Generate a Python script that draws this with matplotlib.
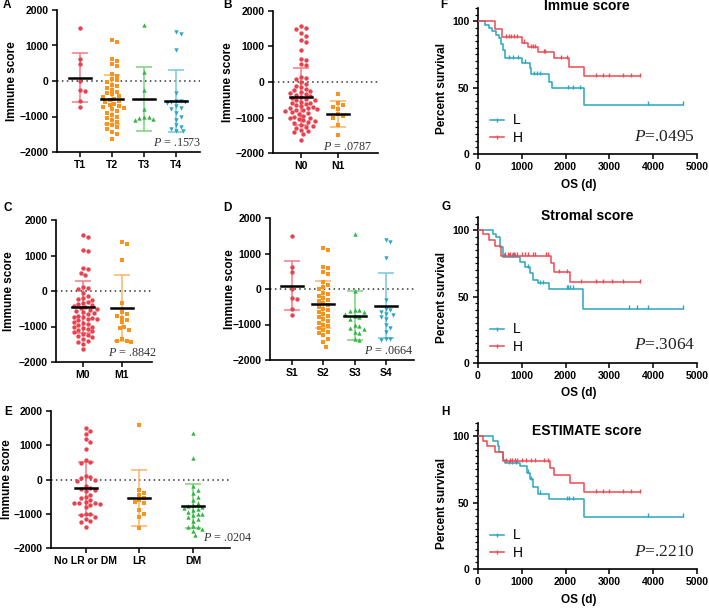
import numpy as np
import matplotlib
matplotlib.use('Agg')
import matplotlib.pyplot as plt
from matplotlib.lines import Line2D

plt.rcParams['font.family'] = 'Liberation Sans'
plt.rcParams['font.weight'] = 'bold'
plt.rcParams['axes.linewidth'] = 1.2
plt.rcParams['mathtext.fontset'] = 'custom'
plt.rcParams['mathtext.it'] = 'Liberation Serif:style=italic:weight=normal'
plt.rcParams['mathtext.rm'] = 'Liberation Serif:weight=normal'

# ---------------- scatter data (immune score) ----------------
t_names = ['T1', 'T2', 'T3', 'T4']
t_vals = [
    [1500, 620, 480, 0, -250, -290, -560, -730],
    [1150, 1100, 620, 560, 480, 420, 200, 150, 60, 20, -20, -100, -150, -200, -250,
     -300, -350, -380, -420, -450, -500, -530, -560, -600, -640, -680, -700, -720,
     -760, -800, -850, -900, -950, -1000, -1050, -1100, -1150, -1200, -1250, -1300,
     -1350, -1430, -1480, -1620],
    [1580, 240, -250, -800, -1000, -1000, -1050, -1080, -1100],
    [1380, 1330, 870, -350, -550, -570, -580, -600, -620, -700, -750, -800, -900,
     -1000, -1100, -1250, -1300, -1350, -1420, -1420],
]
t_mean = [90, -520, -510, -565]
t_sd = [690, 700, 900, 875]

n_names = ['N0', 'N1']
n_vals = [
    [1570, 1530, 1480, 1390, 1300, 1180, 1140, 900, 650, 620, 500, 480, 140, 120, 90,
     0, -50, -100, -150, -200, -220, -250, -280, -320, -350, -380, -400, -420, -450,
     -480, -500, -520, -550, -580, -600, -620, -650, -680, -700, -720, -740, -760,
     -780, -800, -820, -850, -880, -900, -950, -980, -1000, -1020, -1050, -1080,
     -1100, -1130, -1160, -1200, -1230, -1260, -1300, -1340, -1380, -1420, -1460,
     -1620],
    [-330, -600, -650, -700, -750, -900, -950, -1000, -1200, -1480],
]
n_mean = [-410, -900]
n_sd = [810, 367]

m_names = ['M0', 'M1']
m_vals = [
    [1580, 1520, 1160, 1120, 640, 610, 520, 440, 100, 80, 50, -50, -150, -200, -230,
     -260, -300, -330, -360, -400, -420, -450, -480, -500, -530, -560, -600, -630,
     -660, -700, -720, -740, -760, -780, -800, -830, -860, -900, -930, -960, -1000,
     -1020, -1050, -1080, -1100, -1130, -1160, -1200, -1230, -1260, -1300, -1350,
     -1400, -1450, -1480, -1620],
    [1370, 1330, 870, -350, -600, -650, -700, -750, -820, -880, -1000, -1050, -1100,
     -1350, -1400, -1420, -1430],
]
m_mean = [-457, -486]
m_sd = [733, 924]

s_names = ['S1', 'S2', 'S3', 'S4']
s_vals = [
    [1500, 620, 480, 0, -250, -290, -560, -730],
    [1150, 1100, 620, 580, 480, 420, 200, 100, 50, 0, -100, -150, -200, -250, -300,
     -350, -400, -450, -500, -550, -600, -650, -700, -750, -800, -850, -900, -950,
     -1000, -1050, -1100, -1150, -1200, -1250, -1300, -1400, -1500, -1620],
    [1560, -50, -580, -600, -620, -650, -700, -750, -800, -850, -1000, -1050, -1100,
     -1120, -1200, -1250, -1400, -1450],
    [1380, 1330, 870, -320, -550, -600, -650, -700, -720, -800, -850, -1000, -1100,
     -1200, -1400, -1420, -1430],
]
s_mean = [93, -430, -748, -477]
s_sd = [683, 664, 700, 917]

e_names = ['No LR or DM', 'LR', 'DM']
e_vals = [
    [1500, 1420, 1330, 1170, 1100, 880, 560, 520, 480, 100, 70, 50, 0, -30, -200,
     -250, -280, -300, -350, -450, -500, -550, -600, -650, -680, -700, -700, -720,
     -750, -800, -1000, -1000, -1050, -1100, -1150, -1200, -1250, -1380],
    [1580, -300, -400, -450, -550, -600, -650, -700, -900, -1000, -1100, -1430],
    [1370, 630, -200, -300, -400, -500, -600, -700, -750, -780, -800, -820, -850, -900,
     -950, -1000, -1000, -1050, -1100, -1150, -1200, -1350, -1400, -1400, -1450,
     -1500, -1620],
]
e_mean = [-262, -544, -777]
e_sd = [767, 826, 641]

# ---------------- Kaplan-Meier data ----------------
f_L_t = [0, 150, 250, 330, 420, 480, 520, 560, 620, 1000, 1180, 1210, 1620, 1690, 2410]
f_L_s = [100, 97.5, 95, 92.5, 90, 87.5, 83, 78, 72, 68.5, 65, 60, 54.5, 49.5, 37]
f_L_c = [700, 800, 920, 1080, 1280, 1340, 1420, 2050, 2160, 2340, 3880, 4670]
f_H_t = [0, 385, 555, 995, 1135, 1365, 1725, 2070, 2415]
f_H_s = [100, 94, 88, 84, 80.5, 76.5, 72, 65.5, 58.5]
f_H_c = [640, 700, 760, 820, 880, 1060, 1200, 1250, 1300, 1500, 1540, 1900, 2030,
         2700, 2850, 3000, 3300, 3500, 3700]

g_L_t = [0, 345, 420, 500, 560, 960, 1070, 1185, 1260, 1370, 1613, 2400]
g_L_s = [100, 97.5, 95, 87.5, 80, 76, 72, 68, 62.5, 60, 56, 41]
g_L_c = [600, 700, 780, 850, 1150, 1420, 1480, 2030, 2060, 2100, 2180, 3450, 3620,
         3880, 4670]
g_H_t = [0, 115, 250, 380, 535, 1667, 1740, 2110]
g_H_s = [100, 97, 93, 88, 80.7, 75.7, 68.2, 60.7]
g_H_c = [620, 680, 740, 790, 830, 900, 1000, 1080, 1150, 1250, 1300, 1550, 1600,
         1850, 2040, 2350, 2700, 2850, 3050, 3300, 3700]

h_L_t = [0, 345, 450, 490, 560, 620, 960, 1110, 1190, 1260, 1370, 1613, 2415]
h_L_s = [100, 96.5, 93, 88, 82, 79.5, 77.5, 72.5, 67.5, 62, 56.7, 52.4, 39.3]
h_L_c = [700, 780, 860, 1150, 1220, 1420, 2030, 2070, 2180, 3880, 4670]
h_H_t = [0, 115, 200, 380, 570, 1650, 1740, 2110, 2415]
h_H_s = [100, 96.5, 93, 88, 81.3, 76.3, 70.5, 64.5, 57.9]
h_H_c = [650, 720, 780, 840, 900, 1000, 1100, 1200, 1300, 1500, 1600, 2700, 2850,
         3000, 3300, 3500, 3700]

RED, ORANGE, GREEN, CYAN = '#E8424F', '#F7931E', '#35B546', '#2CA5C8'
LIGHT = {RED: '#F07C86', ORANGE: '#F9B466', GREEN: '#7BD27F', CYAN: '#78C6DE'}
KM_L, KM_H = '#2AA6BF', '#EE4A53'

W, H = 709, 609
fig = plt.figure(figsize=(W / 100, H / 100), dpi=100)


def add_axes(box):
    left, top, right, bottom = box
    return fig.add_axes([left / W, 1 - bottom / H, (right - left) / W, (bottom - top) / H])


def ftext(x, y, s, **kw):
    fig.text(x / W, 1 - y / H, s, **kw)


def swarm(vals, ypx, d):
    '''simple bee swarm: horizontal offsets in pixels'''
    y = np.asarray(vals, dtype=float) * ypx
    offs = np.zeros(len(y))
    placed = []
    for k in np.argsort(-y):
        cands = [0.0]
        for j in range(1, 60):
            cands += [j * d * 0.5, -j * d * 0.5]
        for c in cands:
            if all((c - px) ** 2 + (y[k] - py) ** 2 >= d * d for px, py in placed):
                break
        offs[k] = c
        placed.append((c, y[k]))
    return offs


def scatter_panel(box, names, vals, means, sds, colors, markers, xlim, ptext, p_xy, ylab_x):
    ax = add_axes(box)
    w_px, h_px = box[2] - box[0], box[3] - box[1]
    xpx = w_px / (xlim[1] - xlim[0])
    ypx = h_px / 4000.0
    ax.set_xlim(xlim)
    ax.set_ylim(-2000, 2000)
    ax.axhline(0, color='#333333', ls=(0, (1, 2.2)), lw=1.1, zorder=1)
    for i, (v, mu, sd, c, m) in enumerate(zip(vals, means, sds, colors, markers)):
        off = swarm(v, ypx, 4.6) / xpx
        ax.scatter(i + off, v, s=10, marker=m, color=c, linewidths=0, zorder=3)
        ax.errorbar(i, mu, yerr=sd, color=LIGHT[c], capsize=5.5, capthick=1.1,
                    elinewidth=1.1, zorder=2)
        ax.plot([i - 11 / xpx, i + 11 / xpx], [mu, mu], color='black', lw=1.8, zorder=4)
    for s in ['top', 'right']:
        ax.spines[s].set_visible(False)
    ax.set_yticks([-2000, -1000, 0, 1000, 2000])
    ax.set_xticks(range(len(names)))
    ax.set_xticklabels(names)
    ax.tick_params(length=3.5, width=1.1, labelsize=7.5, pad=2.5)
    ax.set_ylabel('Immune score', fontsize=8.5, fontweight='bold')
    ax.yaxis.set_label_coords((ylab_x + 6 - box[0]) / w_px, 0.5)
    ftext(p_xy[0], p_xy[1], ptext, ha='right', va='center', fontsize=8.7,
          family='Liberation Serif', fontweight='normal', color='#333333')
    return ax


def km_panel(box, title, title_y, curves, ptext, p_y, xlab_y):
    ax = add_axes(box)
    handles = []
    for t, s, c, col, lab in curves:
        end = max(max(c), t[-1])
        x = list(t) + [end]
        y = list(s) + [s[-1]]
        ax.step(x, y, where='post', color=col, lw=1.1, zorder=3)
        cy = [s[np.searchsorted(t, ci, side='right') - 1] for ci in c]
        ax.plot(c, np.array(cy) + 1.2, ls='none', marker='|', ms=3.5, mew=1.0,
                color=col, zorder=3)
        handles.append(Line2D([], [], color=col, lw=1.1, marker='|', ms=3.5, mew=1.0))
    ax.set_xlim(0, 5000)
    ax.set_ylim(0, 110)
    for s in ['top', 'right']:
        ax.spines[s].set_visible(False)
    ax.set_xticks([0, 1000, 2000, 3000, 4000, 5000])
    ax.set_yticks([0, 50, 100])
    ax.set_yticks(np.arange(0, 111, 5), minor=True)
    ax.tick_params(length=3.5, width=1.1, labelsize=7.5, pad=2.5)
    ax.tick_params(which='minor', length=2, width=0.9)
    ax.set_ylabel('Percent survival', fontsize=8.5, fontweight='bold')
    ax.yaxis.set_label_coords((448 - box[0]) / (box[2] - box[0]), 0.45)
    ax.legend(handles, [cv[4] for cv in curves], loc='center left',
              bbox_to_anchor=(0.0, 0.17), frameon=False, handlelength=1.0,
              handletextpad=0.6, labelspacing=0.25,
              prop={'size': 10, 'weight': 'normal'})
    ftext(587, title_y, title, ha='center', va='center', fontsize=10, fontweight='bold')
    ftext(695, p_y, ptext, ha='right', va='center', fontsize=12.5,
          family='Liberation Serif', fontweight='normal', color='#222222')
    ftext(579, xlab_y, 'OS (d)', ha='center', va='center', fontsize=8.5,
          fontweight='bold')
    return ax


scatter_panel((57, 10, 200, 152), t_names, t_vals, t_mean, t_sd,
              [RED, ORANGE, GREEN, CYAN], ['o', 's', '^', 'v'], (-0.72, 3.75),
              '$P$ = .1573', (201, 143), 12)
scatter_panel((273, 11, 378, 153), n_names, n_vals, n_mean, n_sd,
              [RED, ORANGE], ['o', 's'], (-0.76, 2.08),
              '$P$ = .0787', (372, 147), 228)
scatter_panel((56, 220, 152, 362), m_names, m_vals, m_mean, m_sd,
              [RED, ORANGE], ['o', 's'], (-0.69, 1.77),
              '$P$ = .8842', (157, 353), 9)
scatter_panel((270, 218, 414, 360), s_names, s_vals, s_mean, s_sd,
              [RED, ORANGE, GREEN, CYAN], ['o', 's', '^', 'v'], (-0.70, 3.9),
              '$P$ = .0664', (413, 351), 230)
scatter_panel((51, 411, 230, 548), e_names, e_vals, e_mean, e_sd,
              [RED, ORANGE, GREEN], ['o', 's', '^'], (-0.65, 2.69),
              '$P$ = .0204', (252, 538), 7)

km_panel((478, 8, 697, 154), 'Immue score', 6,
         [(f_L_t, f_L_s, f_L_c, KM_L, 'L'), (f_H_t, f_H_s, f_H_c, KM_H, 'H')],
         '$P$=.0495', 137, 185)
km_panel((478, 217, 697, 363), 'Stromal score', 216,
         [(g_L_t, g_L_s, g_L_c, KM_L, 'L'), (g_H_t, g_H_s, g_H_c, KM_H, 'H')],
         '$P$=.3064', 345, 393)
km_panel((478, 423, 697, 569), 'ESTIMATE score', 431,
         [(h_L_t, h_L_s, h_L_c, KM_L, 'L'), (h_H_t, h_H_s, h_H_c, KM_H, 'H')],
         '$P$=.2210', 552, 600)

for lab, x, y in [('A', 3, 5), ('B', 223, 5), ('C', 3, 208), ('D', 223, 208),
                  ('E', 4, 412), ('F', 440, 5), ('G', 441, 207), ('H', 441, 412)]:
    ftext(x, y, lab, ha='left', va='center', fontsize=8.5, fontweight='bold')

fig.savefig('out.png', dpi=100)
